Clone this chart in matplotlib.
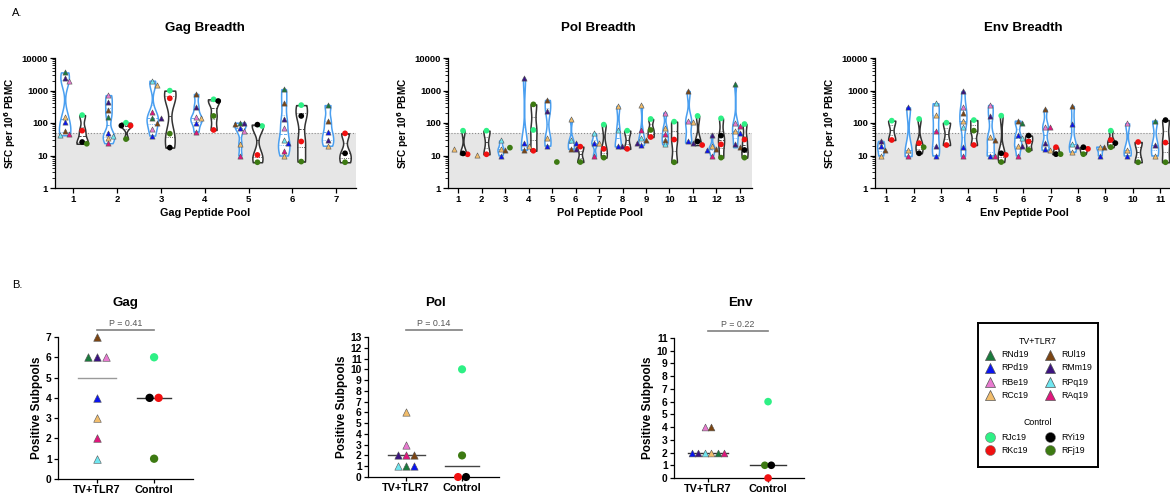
import numpy as np
import matplotlib
matplotlib.use('Agg')
import matplotlib.pyplot as plt
from matplotlib.ticker import LogLocator, NullFormatter

plt.rcParams['font.family'] = ['Liberation Sans', 'DejaVu Sans']

nan = np.nan
W, H = 1170, 497

tv_animals = ['RNd19', 'RPd19', 'RBe19', 'RCc19', 'RUl19', 'RMm19', 'RPq19', 'RAq19']
ctrl_animals = ['RJc19', 'RKc19', 'RYi19', 'RFj19']
colors = {
    'RNd19': '#1a7a3c', 'RPd19': '#0a14f0', 'RBe19': '#e87ad0', 'RCc19': '#f2bd6b',
    'RUl19': '#7b4513', 'RMm19': '#3b1380', 'RPq19': '#6fe6f0', 'RAq19': '#e0167c',
    'RJc19': '#2ef085', 'RKc19': '#f01010', 'RYi19': '#000000', 'RFj19': '#3d7a12',
}

# SFC per 10^6 PBMC, one entry per peptide pool
gag_tv = {
    'RNd19': [3600, 150, 139, nan, 102, 1100, 355],
    'RPd19': [110, 48, 41, 102, 70, 24, 52],
    'RBe19': [2000, 720, 64, 150, 57, 70, nan],
    'RCc19': [156, 34, 1480, 139, 23, 10, 20],
    'RUl19': [58, 250, 102, 780, 95, 425, 118],
    'RMm19': [2350, 455, 139, 318, 100, 130, 31],
    'RPq19': [42, 40, 2000, nan, nan, 30, nan],
    'RAq19': [46, 24, 223, 54, 10, 14, nan],
}
gag_ctrl = {
    'RJc19': [175, 102, 990, 535, 81, 355, nan],
    'RKc19': [58, 83, 575, 61, 10.4, 27, 48],
    'RYi19': [26, 83, 17.5, 475, 89, 165, 11.7],
    'RFj19': [23, 32, 47, 165, 6.2, 6.5, 6.2],
}
pol_tv = {
    'RNd19': [nan, nan, nan, nan, nan, nan, nan, nan, nan, nan, nan, nan, 1580],
    'RPd19': [nan, nan, 10, 23.6, 20, 25, 25, 20, 21, nan, 27, 15, 51],
    'RBe19': [nan, nan, nan, nan, nan, nan, nan, nan, nan, 208, 115, nan, 102],
    'RCc19': [15.5, 10.4, 15.8, 20, 34, 133, 25, 333, 357, 72, 110, 19, 55],
    'RUl19': [nan, nan, 15, 15, 510, 16, nan, nan, 31, 31, 960, 16, 18],
    'RMm19': [nan, nan, nan, 2350, 240, 16, nan, 19, 25, nan, 25, 43, 23],
    'RPq19': [nan, nan, 29, nan, nan, 29, 48, 61, 34, 22, nan, nan, nan],
    'RAq19': [nan, nan, nan, nan, nan, nan, 9.6, nan, 63, 45, nan, 10, 83],
}
pol_ctrl = {
    'RJc19': [58, 58, nan, 61, nan, nan, 89, 58, 133, 110, 165, 139, 93],
    'RKc19': [10.9, 10.9, nan, 14, nan, 18.7, 16, 16, 37, 31, 21, 22, 31],
    'RYi19': [11.6, nan, nan, nan, nan, nan, nan, nan, nan, nan, 27, 41, 14.8],
    'RFj19': [nan, nan, 17.4, 375, 6.3, 6.3, 8.6, nan, 61, 6.2, nan, 8.6, 8.6],
}
env_tv = {
    'RNd19': [nan, nan, nan, nan, nan, 98, nan, nan, nan, nan, 118],
    'RPd19': [20, 303, 10, 18, 10, 43, 15.8, 93, 10, 10, nan],
    'RBe19': [nan, nan, nan, 318, 357, nan, 77, nan, nan, 98, nan],
    'RCc19': [10, 15, 176, 118, 36, 20, 15, 13, 18.7, 15, 10],
    'RUl19': [15, nan, nan, 199, 29, 118, 263, 333, 18, nan, nan],
    'RMm19': [28, nan, 20, 940, 165, 20, 25, 20, nan, nan, 21],
    'RPq19': [nan, nan, 405, 77, nan, 34, nan, 22.6, nan, nan, nan],
    'RAq19': [nan, 9.6, 58, 9.6, 10, 10, 73, nan, nan, nan, nan],
}
env_ctrl = {
    'RJc19': [118, 133, 102, 123, 168, nan, nan, nan, 58, nan, nan],
    'RKc19': [30, 24, 21, 21, 10.4, 27, 18, 16, 30, 26, 25],
    'RYi19': [nan, 11.7, nan, nan, 11.7, 41, 11, 18, 24, nan, 123],
    'RFj19': [nan, 18, nan, 58, 6.3, 14.8, 11, 11, 18, 6.2, 6.2],
}

# number of positive subpools per animal
gag_tv_ids = ['RUl19', 'RNd19', 'RMm19', 'RBe19', 'RPd19', 'RCc19', 'RAq19', 'RPq19']
gag_tv_pos = [7, 6, 6, 6, 4, 3, 2, 1]
gag_ctrl_ids = ['RJc19', 'RYi19', 'RKc19', 'RFj19']
gag_ctrl_pos = [6, 4, 4, 1]
pol_tv_ids = ['RCc19', 'RBe19', 'RMm19', 'RAq19', 'RUl19', 'RPq19', 'RNd19', 'RPd19']
pol_tv_pos = [6, 3, 2, 2, 2, 1, 1, 1]
pol_ctrl_ids = ['RJc19', 'RFj19', 'RKc19', 'RYi19']
pol_ctrl_pos = [10, 2, 0, 0]
env_tv_ids = ['RBe19', 'RUl19', 'RPd19', 'RMm19', 'RPq19', 'RCc19', 'RNd19', 'RAq19']
env_tv_pos = [4, 4, 2, 2, 2, 2, 2, 2]
env_ctrl_ids = ['RJc19', 'RFj19', 'RYi19', 'RKc19']
env_ctrl_pos = [6, 1, 1, 0]
p_values = ['P = 0.41', 'P = 0.14', 'P = 0.22']

threshold = 50


def box(l, t, r, b):
    return [l / W, 1 - b / H, (r - l) / W, (b - t) / H]


def violin(ax, pos, vals, edge, half=0.13):
    lv = np.log10(vals)
    if len(lv) < 2:
        return
    g = np.linspace(lv.min(), lv.max(), 150)
    bw = max(0.5 * np.std(lv, ddof=1) * len(lv) ** -0.2, 0.1)
    dens = np.exp(-0.5 * ((g[:, None] - lv[None, :]) / bw) ** 2).sum(axis=1)
    w = dens / dens.max() * half
    ax.fill_betweenx(10 ** g, pos - w, pos + w, facecolor='white',
                     edgecolor=edge, lw=1.1, zorder=2)
    q1, med, q3 = np.percentile(lv, [25, 50, 75])
    for q, ls in ((q1, ':'), (med, '--'), (q3, ':')):
        wq = np.interp(q, g, w)
        ax.plot([pos - wq, pos + wq], [10 ** q] * 2, color=edge, lw=0.6,
                ls=ls, zorder=3)


def swarm(pos, lv, x_px, y_px, size=4.6):
    xs = np.full(len(lv), float(pos))
    placed = []
    for i in np.argsort(-lv):
        for k in (0, 1, -1, 2, -2, 3, -3):
            x = pos + k * size / x_px
            if all(np.hypot((x - xs[j]) * x_px, (lv[i] - lv[j]) * y_px) >= size
                   for j in placed):
                break
        xs[i] = x
        placed.append(i)
    return xs


def breadth_panel(rect, xlim, tv, ctrl, title, xlabel, title_xy):
    ax = fig.add_axes(box(*rect))
    npool = len(next(iter(tv.values())))
    ax.set_yscale('log')
    ax.set_ylim(1, 10000)
    ax.set_xlim(*xlim)
    ax.axhspan(1, threshold, color='#e6e6e6', zorder=0, lw=0)
    ax.axhline(threshold, color='#8c8c8c', ls=':', lw=0.8, zorder=1)
    bb = ax.get_window_extent()
    x_px = bb.width / (xlim[1] - xlim[0])
    y_px = bb.height / 4
    for p in range(npool):
        for group, off, edge, mk in ((tv, -0.2, '#4a9ff0', '^'),
                                     (ctrl, 0.2, '#333333', 'o')):
            ids = [a for a in group if not np.isnan(group[a][p])]
            vals = np.array([group[a][p] for a in ids])
            if len(vals) == 0:
                continue
            pos = p + 1 + off
            violin(ax, pos, vals, edge)
            xs = swarm(pos, np.log10(vals), x_px, y_px)
            for a, x, v in zip(ids, xs, vals):
                if mk == '^':
                    ax.scatter(x, v, marker='^', s=14, color=colors[a],
                               edgecolors='#555555', linewidths=0.4, zorder=4)
                else:
                    ax.scatter(x, v, marker='o', s=17, color=colors[a],
                               edgecolors='none', zorder=4)
    ax.set_yticks([1, 10, 100, 1000, 10000])
    ax.set_yticklabels(['1', '10', '100', '1000', '10000'])
    ax.yaxis.set_minor_locator(LogLocator(base=10, subs=np.arange(2, 10)))
    ax.yaxis.set_minor_formatter(NullFormatter())
    ax.set_xticks(range(1, npool + 1))
    ax.tick_params(axis='both', which='major', labelsize=6.8, length=3.5,
                   width=0.9, pad=1.5)
    ax.tick_params(axis='y', which='minor', length=2, width=0.6)
    for lab in ax.get_xticklabels() + ax.get_yticklabels():
        lab.set_fontweight('bold')
    for s in ('top', 'right'):
        ax.spines[s].set_visible(False)
    for s in ('left', 'bottom'):
        ax.spines[s].set_linewidth(0.9)
    ax.set_ylabel('SFC per 10$^\\mathbf{6}$ PBMC', fontsize=7.2,
                  fontweight='bold', labelpad=3)
    ax.set_xlabel(xlabel, fontsize=7.8, fontweight='bold', labelpad=3)
    fig.text(title_xy[0] / W, 1 - title_xy[1] / H, title, ha='center',
             va='center', fontsize=9.6, fontweight='bold')
    return ax


def count_panel(rect, xlim, ymax, tv_ids, tv_pos, ctrl_ids, ctrl_pos,
                title, title_xy, pval, med_colors, dx_px, msize):
    ax = fig.add_axes(box(*rect))
    ax.set_xlim(*xlim)
    ax.set_ylim(0, ymax)
    bb = ax.get_window_extent()
    x_px = bb.width / (xlim[1] - xlim[0])
    dx = dx_px / x_px
    for pos, ids, vals, mk, mc in ((1, tv_ids, tv_pos, '^', med_colors[0]),
                                   (2, ctrl_ids, ctrl_pos, 'o', med_colors[1])):
        med = np.median(vals)
        half = 0.33 if pos == 1 else 0.3
        ax.plot([pos - half, pos + half], [med, med], color=mc, lw=1.0, zorder=2)
        for v in sorted(set(vals), reverse=True):
            grp = [a for a, u in zip(ids, vals) if u == v]
            for i, a in enumerate(grp):
                x = pos + (i - (len(grp) - 1) / 2) * dx
                if mk == '^':
                    ax.scatter(x, v, marker='^', s=msize, color=colors[a],
                               edgecolors='#555555', linewidths=0.4,
                               zorder=4, clip_on=False)
                else:
                    ax.scatter(x, v, marker='o', s=msize + 6, color=colors[a],
                               edgecolors='none', zorder=4, clip_on=False)
    yb = ymax * 1.05
    ax.plot([1, 2], [yb, yb], color='#808080', lw=1.2, clip_on=False)
    ax.text(1.5, yb + ymax * 0.015, pval, ha='center', va='bottom',
            fontsize=6.4, color='#555555')
    ax.set_xticks([1, 2])
    ax.set_xticklabels(['TV+TLR7', 'Control'])
    ax.set_yticks(range(0, ymax + 1))
    ax.tick_params(axis='both', labelsize=7.4, length=3, width=0.9, pad=1.5)
    ax.tick_params(axis='x', labelsize=7.8)
    for lab in ax.get_xticklabels() + ax.get_yticklabels():
        lab.set_fontweight('bold')
    for s in ('top', 'right'):
        ax.spines[s].set_visible(False)
    for s in ('left', 'bottom'):
        ax.spines[s].set_linewidth(0.9)
    ax.set_ylabel('Positive Subpools', fontsize=8.5, fontweight='bold',
                  labelpad=2)
    fig.text(title_xy[0] / W, 1 - title_xy[1] / H, title, ha='center',
             va='center', fontsize=9.6, fontweight='bold')
    return ax


fig = plt.figure(figsize=(W / 100, H / 100), dpi=100)

breadth_panel((55, 58, 356, 188), (0.58, 7.45), gag_tv, gag_ctrl,
              'Gag Breadth', 'Gag Peptide Pool', (205, 28))
breadth_panel((448, 58, 752, 188), (0.56, 13.52), pol_tv, pol_ctrl,
              'Pol Breadth', 'Pol Peptide Pool', (598, 28))
breadth_panel((875, 58, 1174, 188), (0.59, 11.51), env_tv, env_ctrl,
              'Env Breadth', 'Env Peptide Pool', (1023, 28))

count_panel((58, 337, 193, 479), (0.32, 2.68), 7, gag_tv_ids, gag_tv_pos,
            gag_ctrl_ids, gag_ctrl_pos, 'Gag', (125, 303), p_values[0],
            ('#9a9a9a', '#333333'), 9, 30)
count_panel((368, 337, 499, 477), (0.32, 2.66), 13, pol_tv_ids, pol_tv_pos,
            pol_ctrl_ids, pol_ctrl_pos, 'Pol', (435, 303), p_values[1],
            ('#444444', '#444444'), 8, 28)
count_panel((674, 338, 804, 478), (0.43, 2.6), 11, env_tv_ids, env_tv_pos,
            env_ctrl_ids, env_ctrl_pos, 'Env', (740, 303), p_values[2],
            ('#333333', '#333333'), 6.5, 24)

fig.text(12 / W, 1 - 13 / H, 'A.', fontsize=8, va='center')
fig.text(12 / W, 1 - 285 / H, 'B.', fontsize=8, va='center')

# legend box
lg = fig.add_axes(box(978, 323, 1098, 467))
lg.set_xlim(0, 1)
lg.set_ylim(0, 1)
lg.set_xticks([])
lg.set_yticks([])
for s in lg.spines.values():
    s.set_linewidth(1.4)
lg.text(0.5, 0.875, 'TV+TLR7', ha='center', va='center', fontsize=6.3)
lg.text(0.5, 0.306, 'Control', ha='center', va='center', fontsize=6.3)
tv_rows = [0.778, 0.688, 0.59, 0.5]
for i, a in enumerate(tv_animals):
    col, row = divmod(i, 4)
    x = 0.1 + 0.5 * col
    lg.scatter(x, tv_rows[row], marker='^', s=52, color=colors[a],
               edgecolors='#555555', linewidths=0.5)
    lg.text(x + 0.09, tv_rows[row], a, va='center', fontsize=6.3)
ctrl_rows = [0.208, 0.118]
for i, a in enumerate(['RJc19', 'RKc19', 'RYi19', 'RFj19']):
    col, row = divmod(i, 2)
    x = 0.1 + 0.5 * col
    lg.scatter(x, ctrl_rows[row], marker='o', s=52, color=colors[a],
               edgecolors='#777777', linewidths=0.4)
    lg.text(x + 0.09, ctrl_rows[row], a, va='center', fontsize=6.3)

fig.savefig('out.png', dpi=100)
